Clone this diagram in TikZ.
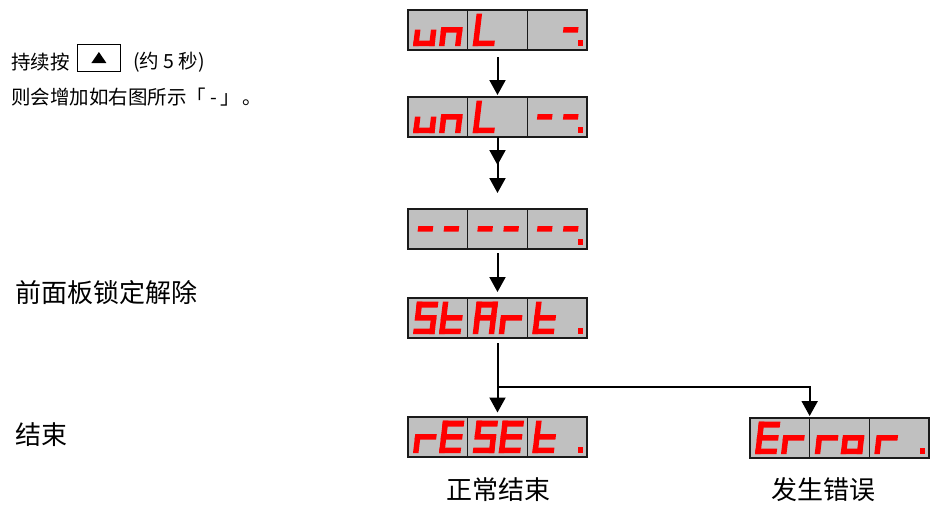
\documentclass[tikz,border=0pt]{standalone}
\usepackage{fontspec}
\newfontfamily\cjk{Noto Sans CJK SC}
\usetikzlibrary{arrows.meta,calc}
\definecolor{dispgray}{HTML}{C0C0C0}
\definecolor{segcol}{HTML}{FF0000}
\definecolor{edge}{HTML}{1A1A1A}
\tikzset{
  disp/.style={draw=edge, line width=1.8pt, fill=dispgray, minimum width=179pt, minimum height=40pt, inner sep=0pt, outer sep=0pt},
  divl/.style={draw=edge, line width=1.5pt},
  segred/.style={fill=segcol},
  arr/.style={line width=2pt, -{Triangle[width=16pt,length=15pt]}},
  lbl/.style={inner sep=0pt, text=black, font=\cjk\fontsize{26pt}{26pt}\selectfont},
  small/.style={inner sep=0pt, text=black, font=\cjk\fontsize{19.5pt}{19.5pt}\selectfont}
}
\newcommand\segA{\fill[segred] (0,26.5) rectangle (21.5,32.5);}
\newcommand\segB{\fill[segred] (16,16) rectangle (21.5,32.5);}
\newcommand\segC{\fill[segred] (16,0) rectangle (21.5,16.5);}
\newcommand\segD{\fill[segred] (0,0) rectangle (21.5,5.5);}
\newcommand\segE{\fill[segred] (0,0) rectangle (5.5,16.5);}
\newcommand\segF{\fill[segred] (0,16) rectangle (5.5,32.5);}
\newcommand\segG{\fill[segred] (0,13.5) rectangle (21.5,19);}
\newcommand\segM{\fill[segred] (3,13.5) rectangle (18,19);}
\newcommand\dgt[3]{\begin{scope}[shift={(#1,#2)},xslant=0.12]\foreach \s in {#3}{\csname seg\s\endcsname}\end{scope}}
\newcommand\disp[9]{%
  \node[disp] (#1) at (#2,#3) {};
  \draw[divl] ($(#1.north west)!1/3!(#1.north east)$) -- ($(#1.south west)!1/3!(#1.south east)$);
  \draw[divl] ($(#1.north west)!2/3!(#1.north east)$) -- ($(#1.south west)!2/3!(#1.south east)$);
  \dgt{#2-84.5}{#3-16}{#4}
  \dgt{#2-58.5}{#3-16}{#5}
  \dgt{#2-24.8}{#3-16}{#6}
  \dgt{#2+1.2}{#3-16}{#7}
  \dgt{#2+34.8}{#3-16}{#8}
  \dgt{#2+60.8}{#3-16}{#9}
  \fill[segred] (#2+80,#3-16) rectangle (#2+85.5,#3-10);
}
\begin{document}
\begin{tikzpicture}[x=1pt,y=1pt]
\useasboundingbox (0,0) rectangle (932,-504);

% displays
\disp{d1}{497.5}{-30}{C,D,E}{C,E,G}{D,E,F}{}{}{M}
\disp{d2}{497.5}{-117}{C,D,E}{C,E,G}{D,E,F}{}{M}{M}
\disp{d3}{497.5}{-229}{M}{M}{M}{M}{M}{M}
\disp{d4}{497.5}{-318}{A,F,G,C,D}{D,E,F,G}{A,B,C,E,F,G}{E,G}{D,E,F,G}{}
\disp{d5}{497.5}{-437}{E,G}{A,D,E,F,G}{A,F,G,C,D}{A,D,E,F,G}{D,E,F,G}{}
\disp{d6}{839.5}{-438}{A,D,E,F,G}{E,G}{E,G}{C,D,E,G}{E,G}{}

% connectors
\draw[arr, shorten >=2pt] ([yshift=-7pt]d1.south) -- (d2.north);
\coordinate (c1) at (497.5,-165);
\coordinate (c2) at (497.5,-193);
\draw[arr] (d2.south) -- (c1);
\draw[arr] (d2.south) -- (c2);
\draw[arr, shorten >=6pt] ([yshift=-4pt]d3.south) -- (d4.north);
\coordinate (br) at (497.5,-387);
\coordinate (e1) at ($(d6.north west)!1/3!(d6.north east)$);
\draw[arr, shorten >=4.5pt] ([yshift=-5pt]d4.south) -- (d5.north);
\draw[arr, shorten >=2pt] (br) -| (e1);

% left texts
\node[small, anchor=west] (t1) at (11,-62) {持续按};
\node[draw=black, line width=1.8pt, minimum width=43pt, minimum height=27pt, inner sep=0pt, anchor=west] (btn) at (76.5,-58) {};
\fill[black] ($(btn.center)+(-7.5,-5)$) -- ($(btn.center)+(7.5,-5)$) -- ($(btn.center)+(0,6)$) -- cycle;
\node[small, anchor=west] (t2) at (133,-62) {(约 5 秒)};
\node[small, anchor=west] (t3) at (11,-97) {则会增加如右图所示「\hspace{4pt}-\hspace{4pt}」\hspace{2pt}。};
\node[lbl, anchor=west] (t4) at (15,-293) {前面板锁定解除};
\node[lbl, anchor=west] (t5) at (15,-435) {结束};
\node[lbl] (t6) at (498,-490) {正常结束};
\node[lbl] (t7) at (823,-490) {发生错误};
\end{tikzpicture}
\end{document}
